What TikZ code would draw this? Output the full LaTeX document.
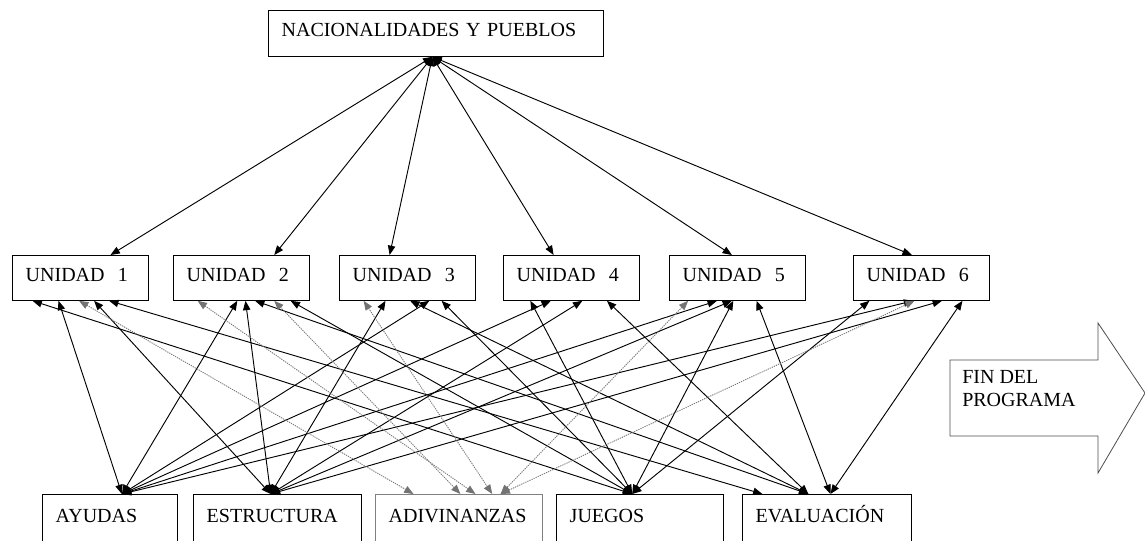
\documentclass[tikz,border=0pt]{standalone}
\usepackage{fontspec}
\setmainfont{Liberation Serif}
\usetikzlibrary{calc,arrows.meta}

% a point on the lower or upper side of a box, as a fraction of its width
\newcommand{\dockS}[2]{($(#1.south west)!#2!(#1.south east)$)}
\newcommand{\dockN}[2]{($(#1.north west)!#2!(#1.north east)$)}

\tikzset{
  box/.style={draw, anchor=north west, align=left, line width=0.6pt,
    inner xsep=10pt, inner ysep=3pt, text height=16.5pt, text depth=11.25pt},
  unit/.style={box, text width=82pt},
  base/.style={box, text height=18pt, text depth=30pt},
  link/.style={{Triangle[length=7pt,width=5.5pt]}-{Triangle[length=7pt,width=5.5pt]},
    line width=0.7pt},
  hint/.style={link, densely dotted, draw=black!55, fill=black!55}
}

\begin{document}
\begin{tikzpicture}[x={(0.75pt,0)}, y={(0,-0.75pt)}, font=\fontsize{15}{18}\selectfont]

    % Frame of the picture, in pixels of the original
    \useasboundingbox (0,0) rectangle (1145,540);
    \clip (0,0) rectangle (1145,540);

    % Top box
    \node[box, text width=231pt, text depth=12pt] (nac) at (268,10) {NACIONALIDADES Y PUEBLOS};

    % The six units
    \node[unit] (u1) at (12,255)  {UNIDAD~~1};
    \node[unit] (u2) at (173,255) {UNIDAD~~2};
    \node[unit] (u3) at (339,255) {UNIDAD~~3};
    \node[unit] (u4) at (503,255) {UNIDAD~~4};
    \node[unit] (u5) at (669,255) {UNIDAD~~5};
    \node[unit] (u6) at (853,255) {UNIDAD~~6};

    % Boxes along the bottom (cut by the lower edge)
    \node[base, text width=81pt]  (ayu) at (42,494)  {AYUDAS};
    \node[base, text width=106pt] (est) at (193,494) {ESTRUCTURA};
    \node[base, text width=105pt, draw=black!50] (adi) at (375,494) {ADIVINANZAS};
    \node[base, text width=105pt] (jue) at (556,494) {JUEGOS};
    \node[base, text width=107pt] (eva) at (742,494) {EVALUACIÓN};

    % Top box to every unit
    \draw[link] \dockS{nac}{.49} -- \dockN{u1}{.72};
    \draw[link] \dockS{nac}{.49} -- \dockN{u2}{.74};
    \draw[link] \dockS{nac}{.49} -- \dockN{u3}{.37};
    \draw[link] \dockS{nac}{.49} -- \dockN{u4}{.37};
    \draw[link] \dockS{nac}{.49} -- \dockN{u5}{.46};
    \draw[link] \dockS{nac}{.49} -- \dockN{u6}{.43};

    % AYUDAS
    \draw[link] \dockS{u1}{.34} -- \dockN{ayu}{.59};
    \draw[link] \dockS{u2}{.47} -- \dockN{ayu}{.59};
    \draw[link] \dockS{u3}{.66} -- \dockN{ayu}{.59};
    \draw[link] \dockS{u4}{.35} -- \dockN{ayu}{.59};
    \draw[link] \dockS{u5}{.35} -- \dockN{ayu}{.59};
    \draw[link] \dockS{u6}{.44} -- \dockN{ayu}{.59};

    % ESTRUCTURA
    \draw[link] \dockS{u1}{.60} -- \dockN{est}{.46};
    \draw[link] \dockS{u2}{.53} -- \dockN{est}{.46};
    \draw[link] \dockS{u3}{.34} -- \dockN{est}{.46};
    \draw[link] \dockS{u4}{.58} -- \dockN{est}{.46};
    \draw[link] \dockS{u5}{.46} -- \dockN{est}{.46};
    \draw[link] \dockS{u6}{.65} -- \dockN{est}{.46};

    % JUEGOS
    \draw[link] \dockS{u1}{.15} -- \dockN{jue}{.455};
    \draw[link] \dockS{u2}{.86} -- \dockN{jue}{.455};
    \draw[link] \dockS{u3}{.75} -- \dockN{jue}{.455};
    \draw[link] \dockS{u4}{.20} -- \dockN{jue}{.455};
    \draw[link] \dockS{u5}{.47} -- \dockN{jue}{.455};
    \draw[link] \dockS{u6}{.12} -- \dockN{jue}{.455};

    % EVALUACION
    \draw[link] \dockS{u1}{.71} -- \dockN{eva}{.12};
    \draw[link] \dockS{u2}{.60} -- \dockN{eva}{.39};
    \draw[link] \dockS{u3}{.52} -- \dockN{eva}{.39};
    \draw[link] \dockS{u4}{.76} -- \dockN{eva}{.39};
    \draw[link] \dockS{u5}{.64} -- \dockN{eva}{.52};
    \draw[link] \dockS{u6}{.80} -- \dockN{eva}{.52};

    % ADIVINANZAS, dotted
    \draw[hint] \dockS{u1}{.49} -- \dockN{adi}{.23};
    \draw[hint] \dockS{u2}{.74} -- \dockN{adi}{.51};
    \draw[hint] \dockS{u2}{.18} -- \dockN{adi}{.60};
    \draw[hint] \dockS{u3}{.18} -- \dockN{adi}{.70};
    \draw[hint] \dockS{u5}{.14} -- \dockN{adi}{.75};
    \draw[hint] \dockS{u6}{.45} -- \dockN{adi}{.75};

    % Block arrow on the right
    \draw[line width=0.6pt, draw=black!70] (950,360) -- (1098,360) -- (1098,323) -- (1145,393)
        -- (1098,473) -- (1098,436) -- (950,436) -- cycle;
    \node[anchor=north west, align=left, inner sep=0pt, font=\fontsize{15}{17.25}\selectfont]
        (fin) at (962,370) {FIN DEL\\PROGRAMA};

\end{tikzpicture}
\end{document}
